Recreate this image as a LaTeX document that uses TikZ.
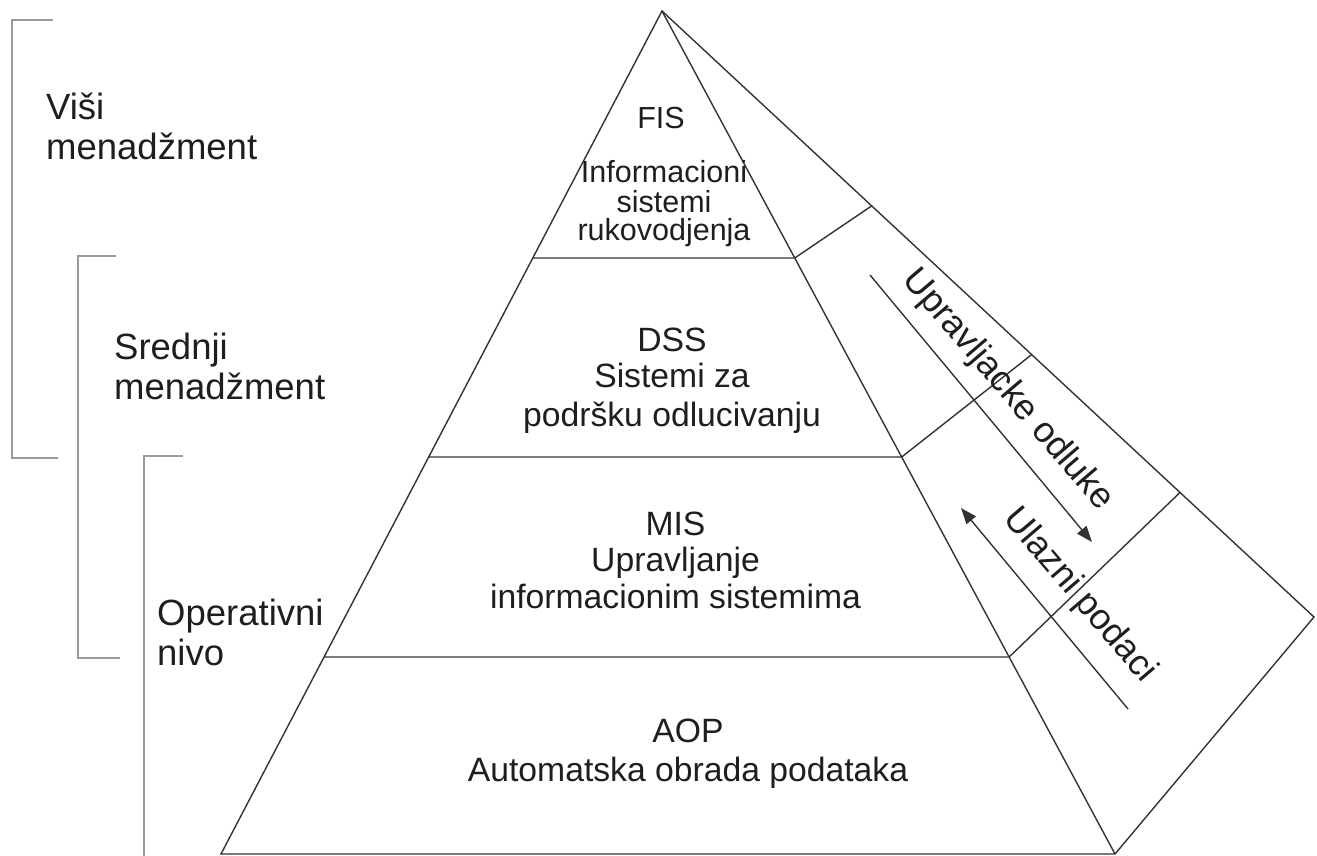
\documentclass[tikz,border=0pt]{standalone}
\usepackage{fontspec}
\setmainfont{Liberation Sans}
\usetikzlibrary{calc,arrows.meta}
\definecolor{edge}{HTML}{333333}
\definecolor{brk}{HTML}{9A9A9A}
\definecolor{ink}{HTML}{1E1E1E}
\begin{document}
\begin{tikzpicture}[x=1pt,y=-1pt,
  face/.style={draw=edge, line width=1.4pt, line join=miter},
  bracket/.style={draw=brk, line width=2pt},
  lvl/.style={font=\fontsize{33.7}{38}\selectfont, text=ink, anchor=base, inner sep=0pt},
  toplvl/.style={font=\fontsize{30.5}{34}\selectfont, text=ink, anchor=base, inner sep=0pt},
  side/.style={font=\fontsize{36.5}{40}\selectfont, text=ink, anchor=base west, inner sep=0pt},
  flow/.style={font=\fontsize{36}{40}\selectfont, text=ink, anchor=mid, inner sep=0pt, rotate=-49.5},
  flowarrow/.style={draw=edge, line width=1.4pt, -{Triangle[length=16pt,width=12pt]}}
]
\useasboundingbox (0,0) rectangle (1317,856);

% pyramid corners
\coordinate (A) at (662,11);
\coordinate (L) at (221,854);
\coordinate (R) at (1115,854);
\coordinate (B) at (1314,617);

% level boundaries on the front face
\coordinate (L1) at ($(A)!0.2930!(L)$);
\coordinate (R1) at ($(A)!0.2930!(R)$);
\coordinate (L2) at ($(A)!0.5291!(L)$);
\coordinate (R2) at ($(A)!0.5291!(R)$);
\coordinate (L3) at ($(A)!0.7663!(L)$);
\coordinate (R3) at ($(A)!0.7663!(R)$);
% matching points on the back edge of the side face
\coordinate (B1) at ($(A)!0.3216!(B)$);
\coordinate (B2) at ($(A)!0.5670!(B)$);
\coordinate (B3) at ($(A)!0.7945!(B)$);

% outline
\draw[face] (A) -- (L) -- (R) -- (B) -- cycle;
\draw[face] (A) -- (R);
% levels
\draw[face] (L1) -- (R1) -- (B1);
\draw[face] (L2) -- (R2) -- (B2);
\draw[face] (L3) -- (R3) -- (B3);

% management brackets
\draw[bracket] (53,20) -- (12,20) -- (12,458) -- (58,458);
\draw[bracket] (116,256) -- (78,256) -- (78,658) -- (120,658);
\draw[bracket] (183,456) -- (144,456) -- (144,856);

% level texts
\node[toplvl] (fis)  at (661,128.3) {FIS};
\node[toplvl] (fis1) at (664,182.7) {Informacioni};
\node[toplvl] (fis2) at (664,212.5) {sistemi};
\node[toplvl] (fis3) at (664,240.5) {rukovodjenja};

\node[lvl] (dss)  at (672,351.7) {DSS};
\node[lvl] (dss1) at (672,387.3) {Sistemi za};
\node[lvl] (dss2) at (672,426) {podršku odlucivanju};

\node[lvl] (mis)  at (675.5,535) {MIS};
\node[lvl] (mis1) at (675.5,571) {Upravljanje};
\node[lvl] (mis2) at (675.5,608.3) {informacionim sistemima};

\node[lvl] (aop)  at (688,742) {AOP};
\node[lvl] (aop1) at (688,781.4) {Automatska obrada podataka};

% management labels
\node[side] (visi1) at (46,120) {Viši};
\node[side] (visi2) at (46,160) {menadžment};
\node[side] (sred1) at (114,359) {Srednji};
\node[side] (sred2) at (114,399) {menadžment};
\node[side] (oper1) at (157,625) {Operativni};
\node[side] (oper2) at (157,665) {nivo};

% flows on the side face
\coordinate (u0) at (870,275);
\coordinate (u1) at (1092,542);
\coordinate (d0) at (1128,709);
\coordinate (d1) at (961,508);
\draw[flowarrow] (u0) -- (u1);
\draw[flowarrow] (d0) -- (d1);
\node[flow] (ctl) at (1002.6,394.5) {Upravljacke odluke};
\node[flow] (inp) at (1074.5,600) {Ulazni podaci};
\end{tikzpicture}
\end{document}
